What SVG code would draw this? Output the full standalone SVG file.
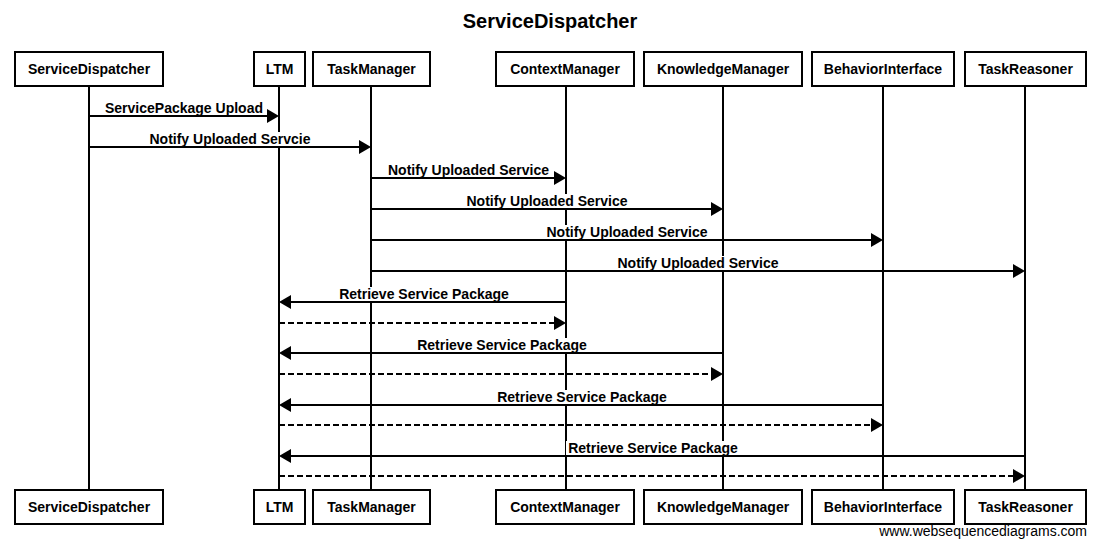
<svg xmlns="http://www.w3.org/2000/svg" width="1101" height="547" viewBox="0 0 1101 547">
<style>
  text { font-family: "Liberation Sans", Arial, sans-serif; fill: #000; }
  .title { font-size: 20px; font-weight: bold; text-anchor: middle; }
  .box { fill: #fff; stroke: #000; stroke-width: 2; }
  .life { stroke: #000; stroke-width: 2; fill: none; }
  .bl { font-size: 14px; font-weight: bold; text-anchor: middle; }
  .msg { stroke: #000; stroke-width: 2; fill: none; marker-end: url(#ah); }
  .dash { stroke-dasharray: 6 3; }
  .lbg { fill: #fff; stroke: none; }
  .ml { font-size: 14px; font-weight: bold; text-anchor: middle; }
  .wm { font-size: 14px; text-anchor: end; }
</style>
<defs>
  <marker id="ah" markerUnits="userSpaceOnUse" markerWidth="13" markerHeight="15" refX="6" refY="7" orient="auto">
    <path d="M0,0 L12,7 L0,14 Z" fill="#000"/>
  </marker>
</defs>
<rect width="1101" height="547" fill="#fff"/>
<text class="title" x="550" y="28">ServiceDispatcher</text>

<g id="ServiceDispatcher">
  <line class="life" x1="89" y1="86" x2="89" y2="490"/>
  <rect class="box" x="15" y="52" width="148" height="34"/>
  <text class="bl" x="89" y="74">ServiceDispatcher</text>
  <rect class="box" x="15" y="490" width="148" height="34"/>
  <text class="bl" x="89" y="512">ServiceDispatcher</text>
</g>
<g id="LTM">
  <line class="life" x1="279" y1="86" x2="279" y2="490"/>
  <rect class="box" x="254" y="52" width="51" height="34"/>
  <text class="bl" x="279.5" y="74">LTM</text>
  <rect class="box" x="254" y="490" width="51" height="34"/>
  <text class="bl" x="279.5" y="512">LTM</text>
</g>
<g id="TaskManager">
  <line class="life" x1="371" y1="86" x2="371" y2="490"/>
  <rect class="box" x="313" y="52" width="117" height="34"/>
  <text class="bl" x="371.5" y="74">TaskManager</text>
  <rect class="box" x="313" y="490" width="117" height="34"/>
  <text class="bl" x="371.5" y="512">TaskManager</text>
</g>
<g id="ContextManager">
  <line class="life" x1="566" y1="86" x2="566" y2="490"/>
  <rect class="box" x="496" y="52" width="138" height="34"/>
  <text class="bl" x="565" y="74">ContextManager</text>
  <rect class="box" x="496" y="490" width="138" height="34"/>
  <text class="bl" x="565" y="512">ContextManager</text>
</g>
<g id="KnowledgeManager">
  <line class="life" x1="723" y1="86" x2="723" y2="490"/>
  <rect class="box" x="644" y="52" width="158" height="34"/>
  <text class="bl" x="723" y="74">KnowledgeManager</text>
  <rect class="box" x="644" y="490" width="158" height="34"/>
  <text class="bl" x="723" y="512">KnowledgeManager</text>
</g>
<g id="BehaviorInterface">
  <line class="life" x1="883" y1="86" x2="883" y2="490"/>
  <rect class="box" x="812" y="52" width="142" height="34"/>
  <text class="bl" x="883" y="74">BehaviorInterface</text>
  <rect class="box" x="812" y="490" width="142" height="34"/>
  <text class="bl" x="883" y="512">BehaviorInterface</text>
</g>
<g id="TaskReasoner">
  <line class="life" x1="1025" y1="86" x2="1025" y2="490"/>
  <rect class="box" x="965" y="52" width="121" height="34"/>
  <text class="bl" x="1025.5" y="74">TaskReasoner</text>
  <rect class="box" x="965" y="490" width="121" height="34"/>
  <text class="bl" x="1025.5" y="512">TaskReasoner</text>
</g>

<g id="connectors">
  <line class="msg" x1="89" y1="116" x2="273" y2="116"/>
  <rect class="lbg" x="103" y="101" width="162" height="14"/>
  <text class="ml" x="184" y="113">ServicePackage Upload</text>

  <line class="msg" x1="89" y1="147" x2="365" y2="147"/>
  <rect class="lbg" x="148" y="132" width="165" height="14"/>
  <text class="ml" x="230" y="144">Notify Uploaded Servcie</text>

  <line class="msg" x1="371" y1="178" x2="560" y2="178"/>
  <rect class="lbg" x="386" y="163" width="165" height="14"/>
  <text class="ml" x="468.5" y="175">Notify Uploaded Service</text>

  <line class="msg" x1="371" y1="209" x2="717" y2="209"/>
  <rect class="lbg" x="464.5" y="194" width="165" height="14"/>
  <text class="ml" x="547" y="206">Notify Uploaded Service</text>

  <line class="msg" x1="371" y1="240" x2="877" y2="240"/>
  <rect class="lbg" x="544.5" y="225" width="165" height="14"/>
  <text class="ml" x="627" y="237">Notify Uploaded Service</text>

  <line class="msg" x1="371" y1="271" x2="1019" y2="271"/>
  <rect class="lbg" x="615.5" y="256" width="165" height="14"/>
  <text class="ml" x="698" y="268">Notify Uploaded Service</text>

  <line class="msg" x1="566" y1="302" x2="285" y2="302"/>
  <rect class="lbg" x="337.5" y="287" width="174" height="14"/>
  <text class="ml" x="424" y="299">Retrieve Service Package</text>

  <line class="msg dash" x1="279" y1="323" x2="560" y2="323"/>

  <line class="msg" x1="723" y1="353" x2="285" y2="353"/>
  <rect class="lbg" x="415" y="338" width="174" height="14"/>
  <text class="ml" x="502" y="350">Retrieve Service Package</text>

  <line class="msg dash" x1="279" y1="374" x2="717" y2="374"/>

  <line class="msg" x1="883" y1="405" x2="285" y2="405"/>
  <rect class="lbg" x="495" y="390" width="174" height="14"/>
  <text class="ml" x="582" y="402">Retrieve Service Package</text>

  <line class="msg dash" x1="279" y1="425" x2="877" y2="425"/>

  <line class="msg" x1="1025" y1="456" x2="285" y2="456"/>
  <rect class="lbg" x="566" y="441" width="174" height="14"/>
  <text class="ml" x="653" y="453">Retrieve Service Package</text>

  <line class="msg dash" x1="279" y1="476" x2="1019" y2="476"/>
</g>

<text class="wm" x="1087" y="536">www.websequencediagrams.com</text>
</svg>
